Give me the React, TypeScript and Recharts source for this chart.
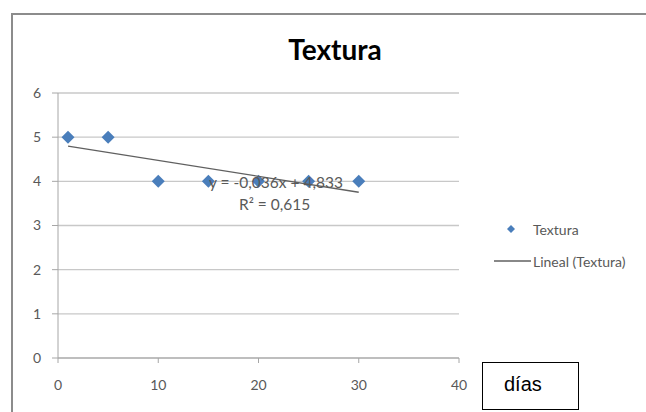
import React from "react";
import { ScatterChart, Scatter, XAxis, YAxis, CartesianGrid } from "recharts";

const dias = [1, 5, 10, 15, 20, 25, 30];
const textura = [5, 5, 4, 4, 4, 4, 4];
const trendX = [1, 30];
const trendY = [4.797, 3.753];
const xTicks = [0, 10, 20, 30, 40];
const yTicks = [0, 1, 2, 3, 4, 5, 6];

const points = dias.map((x, i) => ({ x, y: textura[i] }));
const trend = trendX.map((x, i) => ({ x, y: trendY[i] }));

const BLUE = "#4a7ebb";
const GREY_TEXT = "#595959";
const FONT = "Lato, 'Open Sans', sans-serif";

const Diamond = (props: any) => {
  const { cx, cy } = props;
  const r = 6.5;
  return (
    <polygon
      points={`${cx},${cy - r} ${cx + r},${cy} ${cx},${cy + r} ${cx - r},${cy}`}
      fill={BLUE}
    />
  );
};

const tickStyle = { fill: GREY_TEXT, fontSize: 14, fontFamily: FONT };

export default function App() {
  return (
    <div style={{ position: "absolute", left: 0, top: 0, width: 646, height: 412, overflow: "hidden", background: "#fff" }}>
      {/* chart frame */}
      <div style={{ position: "absolute", left: 11, top: 13, width: 700, height: 500, border: "2px solid #8c8c8c" }} />

      <div style={{ position: "absolute", left: 0, top: 32, width: 670, textAlign: "center", fontFamily: FONT, fontWeight: 700, fontSize: 28, color: "#000" }}>
        Textura
      </div>

      <div style={{ position: "absolute", left: 0, top: 0 }}>
        <ScatterChart width={646} height={412} margin={{ top: 93, right: 187, bottom: 14, left: 18 }}>
          <CartesianGrid vertical={false} stroke="#c8c8c8" strokeWidth={1.3} />
          <XAxis
            type="number"
            dataKey="x"
            domain={[0, 40]}
            ticks={xTicks}
            height={40}
            tick={tickStyle}
            tickSize={5}
            tickMargin={17}
            stroke="#a6a6a6"
          />
          <YAxis
            type="number"
            dataKey="y"
            domain={[0, 6]}
            ticks={yTicks}
            width={40}
            tick={tickStyle}
            tickSize={6}
            tickMargin={11}
            stroke="#a6a6a6"
          />
          <Scatter data={points} shape={<Diamond />} isAnimationActive={false} />
          <Scatter
            data={trend}
            shape={() => <g />}
            line={{ stroke: "#606060", strokeWidth: 1.3 }}
            isAnimationActive={false}
          />
        </ScatterChart>
      </div>

      {/* trendline equation */}
      <div style={{ position: "absolute", left: 209, top: 173, fontFamily: FONT, fontSize: 15.5, color: GREY_TEXT, whiteSpace: "nowrap" }}>
        y = -0,036x + 4,833
      </div>
      <div style={{ position: "absolute", left: 239, top: 195, fontFamily: FONT, fontSize: 15.5, color: GREY_TEXT, whiteSpace: "nowrap" }}>
        R² = 0,615
      </div>

      {/* legend */}
      <div style={{ position: "absolute", left: 494, top: 219, fontFamily: FONT, fontSize: 14, color: GREY_TEXT, whiteSpace: "nowrap" }}>
        <div style={{ display: "flex", alignItems: "center", height: 20 }}>
          <svg width={37} height={20}>
            <polygon points="17,6 21,10 17,14 13,10" fill={BLUE} />
          </svg>
          <span style={{ marginLeft: 2 }}>Textura</span>
        </div>
        <div style={{ display: "flex", alignItems: "center", height: 20, marginTop: 12 }}>
          <svg width={37} height={20}>
            <line x1={0} y1={10} x2={37} y2={10} stroke="#606060" strokeWidth={1.3} />
          </svg>
          <span style={{ marginLeft: 2 }}>Lineal (Textura)</span>
        </div>
      </div>

      {/* días box */}
      <div style={{ position: "absolute", left: 482, top: 362, width: 97, height: 48, border: "1.5px solid #000", fontFamily: "'Liberation Sans', Arial, sans-serif", fontSize: 20, color: "#000", boxSizing: "border-box" }}>
        <span style={{ position: "absolute", left: 21, top: 10 }}>días</span>
      </div>
    </div>
  );
}
